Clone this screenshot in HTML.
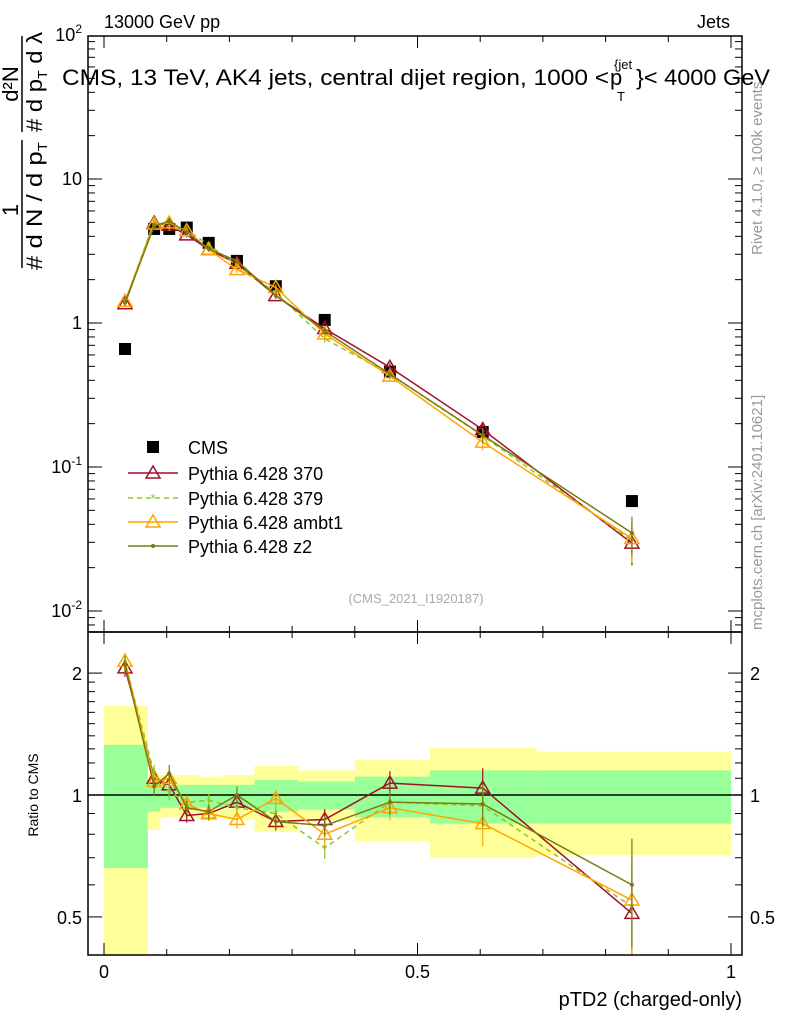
<!DOCTYPE html>
<html><head><meta charset="utf-8"><style>
body{margin:0;background:#fff}
svg text{font-family:"Liberation Sans",sans-serif}
</style></head><body>
<svg id="chart" width="786" height="1024" xmlns="http://www.w3.org/2000/svg">
<g id="bands"></g>
<g id="series"></g>
<g id="axes"></g>
<text x="104" y="28" font-size="18">13000 GeV pp</text>
<text x="730" y="28" font-size="18" text-anchor="end">Jets</text>
<g>
<text x="62" y="85" font-size="22" textLength="547" lengthAdjust="spacingAndGlyphs">CMS, 13 TeV, AK4 jets, central dijet region, 1000 &lt;</text>
<text x="610" y="85" font-size="22">p</text>
<text x="614" y="69" font-size="13">{jet</text>
<text x="617" y="101" font-size="13">T</text>
<text x="636" y="85" font-size="22" textLength="134" lengthAdjust="spacingAndGlyphs">}&lt; 4000 GeV</text>
</g>
<g>
<text transform="translate(42,270) rotate(-90)" font-size="22" textLength="128" lengthAdjust="spacingAndGlyphs"># d N / d p<tspan font-size="13" dy="5">T</tspan></text>
<text transform="translate(42,132) rotate(-90)" font-size="22" textLength="100" lengthAdjust="spacingAndGlyphs"># d p<tspan font-size="13" dy="5">T</tspan><tspan dy="-5"> d λ</tspan></text>
<line x1="22" x2="22" y1="140" y2="268" stroke="#000" stroke-width="1.5"/>
<line x1="22" x2="22" y1="36" y2="132" stroke="#000" stroke-width="1.5"/>
<text transform="translate(18,210) rotate(-90)" font-size="22" text-anchor="middle">1</text>
<text transform="translate(18,84) rotate(-90)" font-size="22" text-anchor="middle">d²N</text>
</g>
<text transform="translate(762,255) rotate(-90)" font-size="15" fill="#999">Rivet 4.1.0, ≥ 100k events</text>
<text transform="translate(762,630) rotate(-90)" font-size="15" fill="#999">mcplots.cern.ch [arXiv:2401.10621]</text>
<text x="416" y="603" font-size="13" fill="#aaa" text-anchor="middle">(CMS_2021_I1920187)</text>
<text transform="translate(38,795) rotate(-90)" font-size="14" text-anchor="middle">Ratio to CMS</text>
<text x="742" y="1006" font-size="20" text-anchor="end">pTD2 (charged-only)</text>
<g id="legend"></g>
</svg>
<script>
const binEdges=[0,0.07,0.09,0.12,0.15,0.19,0.24,0.31,0.40,0.52,0.69,1.0];
const xCenters=[0.0335,0.080,0.104,0.132,0.167,0.212,0.274,0.352,0.456,0.604,0.842];
const cmsValues=[0.66,4.5,4.5,4.6,3.6,2.7,1.8,1.05,0.46,0.175,0.058];
const bandYellowHi=[1.66,1.13,1.12,1.12,1.11,1.12,1.18,1.15,1.22,1.31,1.28];
const bandGreenHi=[1.33,1.07,1.06,1.06,1.06,1.06,1.09,1.08,1.11,1.15,1.15];
const bandGreenLo=[0.66,0.91,0.93,0.93,0.93,0.93,0.91,0.92,0.88,0.85,0.85];
const bandYellowLo=[0.38,0.82,0.88,0.88,0.88,0.87,0.81,0.86,0.77,0.70,0.71];
const ratio370=[2.06,1.10,1.06,0.89,0.90,0.96,0.86,0.87,1.07,1.04,0.51];
const ratio379=[2.12,1.13,1.02,0.96,0.97,0.93,0.90,0.74,0.96,0.94,0.53];
const ratioAmbt1=[2.14,1.08,1.10,0.95,0.90,0.87,0.98,0.80,0.93,0.85,0.55];
const ratioZ2=[2.10,1.05,1.13,0.93,0.91,1.00,0.86,0.84,0.96,0.95,0.60];
const relErr=[0.05,0.05,0.05,0.04,0.04,0.05,0.05,0.06,0.07,0.12,0.3];
const mainTicks=[0.01,0.1,1,10,100];
const ratioTicks=[0.5,1,2];
const xTicks=[0,0.5,1];

const L=88,R=742,T=36,MB=632,RB=955;
const X=v=>104+v*627;
const YM=v=>323-144*Math.log10(v);
const YR=v=>Math.max(T,Math.min(RB,795-405*Math.log10(v)));
const NS='http://www.w3.org/2000/svg';
function mk(p,tag,a){const e=document.createElementNS(NS,tag);for(const k in a)e.setAttribute(k,a[k]);p.appendChild(e);return e;}
const bands=document.getElementById('bands'),ser=document.getElementById('series'),ax=document.getElementById('axes'),leg=document.getElementById('legend');
for(let i=0;i<cmsValues.length;i++){
 const x0=X(binEdges[i]),x1=X(binEdges[i+1]);
 const y=mk(bands,'rect',{x:x0,y:YR(bandYellowHi[i]),width:x1-x0,height:YR(bandYellowLo[i])-YR(bandYellowHi[i]),fill:'#ffff99'});
 
 
 const g=mk(bands,'rect',{x:x0,y:YR(bandGreenHi[i]),width:x1-x0,height:YR(bandGreenLo[i])-YR(bandGreenHi[i]),fill:'#99ff99'});
 
 
}
mk(bands,'line',{x1:L,x2:R,y1:YR(1),y2:YR(1),stroke:'#000','stroke-width':1.5});
cmsValues.forEach((v,i)=>{const r=mk(ser,'rect',{x:X(xCenters[i])-6,y:YM(v)-6,width:12,height:12,fill:'#000'});
 
 });
const series=[
 {name:'Pythia 6.428 370',r:ratio370,c:'#a0102a',dash:'',m:'tri'},
 {name:'Pythia 6.428 379',r:ratio379,c:'#8bc820',dash:'5,4',m:'star'},
 {name:'Pythia 6.428 ambt1',r:ratioAmbt1,c:'#ffa500',dash:'',m:'tri'},
 {name:'Pythia 6.428 z2',r:ratioZ2,c:'#7a7a10',dash:'',m:'dot'}];
function marker(g,x,y,s){
 if(s.m==='tri')mk(g,'path',{d:`M${x},${y-7}L${x+7},${y+5}L${x-7},${y+5}Z`,fill:'none',stroke:s.c,'stroke-width':1.5});
 else if(s.m==='star')mk(g,'text',{x:x,y:y+5,'font-size':13,'text-anchor':'middle',fill:s.c}).textContent='*';
 else mk(g,'circle',{cx:x,cy:y,r:2,fill:s.c});
}
series.forEach(s=>{
 const g=mk(ser,'g',{});
 
 
 const mv=s.r.map((r,i)=>r*cmsValues[i]);
 const pm=mv.map((v,i)=>X(xCenters[i])+','+YM(v)).join(' ');
 const pr=s.r.map((v,i)=>X(xCenters[i])+','+YR(v)).join(' ');
 mk(g,'polyline',{points:pm,fill:'none',stroke:s.c,'stroke-width':1.5,'stroke-dasharray':s.dash});
 mk(g,'polyline',{points:pr,fill:'none',stroke:s.c,'stroke-width':1.5,'stroke-dasharray':s.dash});
 mv.forEach((v,i)=>{const x=X(xCenters[i]);
  mk(g,'line',{x1:x,x2:x,y1:YM(v*(1+relErr[i])),y2:YM(v*(1-relErr[i])),stroke:s.c,'stroke-width':1.2});
  mk(g,'line',{x1:x,x2:x,y1:YR(s.r[i]*(1+relErr[i])),y2:YR(s.r[i]*(1-relErr[i])),stroke:s.c,'stroke-width':1.2});
  marker(g,x,YM(v),s);marker(g,x,YR(s.r[i]),s);});
});
mk(ax,'rect',{x:L,y:T,width:R-L,height:MB-T,fill:'none',stroke:'#000','stroke-width':1.5});
mk(ax,'rect',{x:L,y:MB,width:R-L,height:RB-MB,fill:'none',stroke:'#000','stroke-width':1.5});
for(let v=0;v<=1.0001;v+=0.1){const x=X(v),big=Math.abs(v*2-Math.round(v*2))<1e-6;const l=big?12:6;
 [[T,1],[MB,-1],[MB,1],[RB,-1]].forEach(([y,d])=>mk(ax,'line',{x1:x,x2:x,y1:y,y2:y+d*l,stroke:'#000'}));}
xTicks.forEach(v=>{const t=mk(ax,'text',{x:X(v),y:978,'font-size':18,'text-anchor':'middle'});t.textContent=String(v);
 
 });
for(let e=-3;e<2;e++)for(let k=1;k<10;k++){const v=k*Math.pow(10,e),y=YM(v);if(y<T||y>MB)continue;const l=k===1?14:7;
 mk(ax,'line',{x1:L,x2:L+l,y1:y,y2:y,stroke:'#000'});mk(ax,'line',{x1:R,x2:R-l,y1:y,y2:y,stroke:'#000'});}
mainTicks.forEach(v=>{const y=YM(v);const t=mk(ax,'text',{x:82,y:y+6,'font-size':18,'text-anchor':'end'});
 
 
 if(v===10)t.textContent='10';else if(v===1)t.textContent='1';
 else{const e=Math.round(Math.log10(v));t.textContent='10';const s=mk(t,'tspan',{'font-size':12,dy:-8});s.textContent=String(e);}});
[0.5,0.6,0.7,0.8,0.9,1,1.1,1.2,1.3,1.4,1.5,1.6,1.7,1.8,1.9,2].forEach(v=>{const y=YR(v),l=(v===0.5||v===1||v===2)?14:7;
 mk(ax,'line',{x1:L,x2:L+l,y1:y,y2:y,stroke:'#000'});mk(ax,'line',{x1:R,x2:R-l,y1:y,y2:y,stroke:'#000'});});
ratioTicks.forEach(v=>{const y=YR(v);
 const a=mk(ax,'text',{x:82,y:y+7,'font-size':18,'text-anchor':'end'});a.textContent=String(v);
 
 
 const b=mk(ax,'text',{x:750,y:y+7,'font-size':18});b.textContent=String(v);
 
 });
const ly=[447,473,498,522,546];
const e0=mk(leg,'g',{});


mk(e0,'rect',{x:147,y:ly[0]-6,width:12,height:12,fill:'#000'});
mk(e0,'text',{x:188,y:ly[0]+7,'font-size':18}).textContent='CMS';
series.forEach((s,i)=>{const g=mk(leg,'g',{});
 
 
 const y=ly[i+1];mk(g,'line',{x1:128,x2:178,y1:y,y2:y,stroke:s.c,'stroke-width':1.5,'stroke-dasharray':s.dash});
 marker(g,153,y,s);mk(g,'text',{x:188,y:y+7,'font-size':18}).textContent=s.name;});
</script>
</body></html>
